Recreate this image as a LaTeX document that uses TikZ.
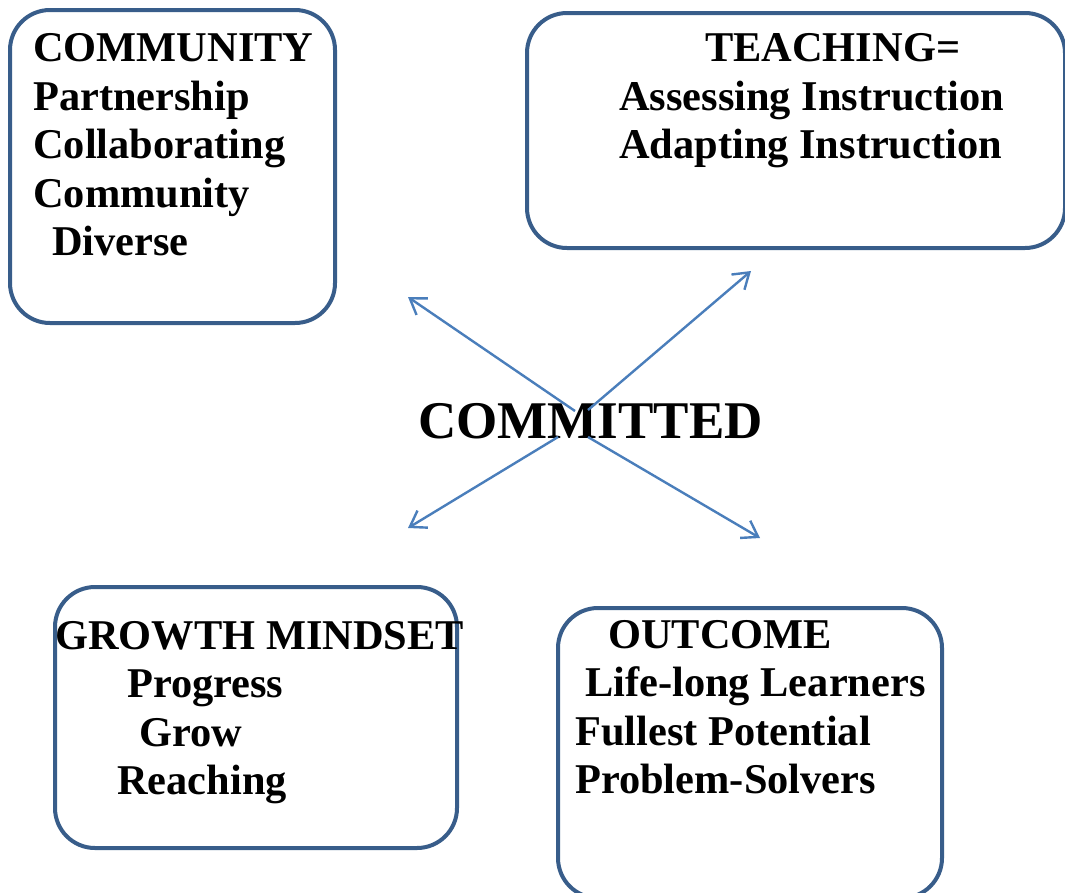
\documentclass[tikz,border=0pt]{standalone}
\usepackage{fontspec}
\setmainfont{Liberation Serif}
\usetikzlibrary{arrows.meta}
\definecolor{boxline}{HTML}{385D8A}
\definecolor{arrowline}{HTML}{4A7EBB}

\begin{document}
\begin{tikzpicture}[x=1pt,y=-1pt,
  box/.style={draw=boxline, line width=4pt, rounded corners=40pt},
  word/.style={anchor=base west, inner sep=0pt, font=\fontsize{42.4}{49}\selectfont\bfseries},
  link/.style={draw=arrowline, line width=2.4pt, -{Straight Barb[length=15pt,width=20pt]}}]
  \useasboundingbox (0,0) rectangle (1065,892);
  \clip (0,0) rectangle (1065,892);
  % boxes
  \node[box, minimum width=325pt, minimum height=313pt] (community) at (172.5,166.5) {};
  \node[box, minimum width=538pt, minimum height=235pt] (teaching) at (796,130.5) {};
  \node[box, minimum width=402pt, minimum height=261pt] (growth) at (256,717.5) {};
  \node[box, minimum width=384pt, minimum height=290pt] (outcome) at (750,753) {};
  % box texts
  \foreach \x/\y/\t [count=\i] in {33/61.5/COMMUNITY, 33/110/Partnership,
      33/158.6/Collaborating, 33/207.2/Community, 52/255.8/Diverse}
    \node[word] (comm\i) at (\x,\y) {\t};
  \foreach \x/\y/\t [count=\i] in {705/61.5/TEACHING=, 619/110/Assessing Instruction,
      619/158.6/Adapting Instruction}
    \node[word] (teach\i) at (\x,\y) {\t};
  \foreach \x/\y/\t [count=\i] in {55/649/GROWTH MINDSET, 127/697.6/Progress,
      139/746.2/Grow, 117/794.8/Reaching}
    \node[word] (grow\i) at (\x,\y) {\t};
  \foreach \x/\y/\t [count=\i] in {608/648/OUTCOME, 585/696.6/Life-long Learners,
      575/745.2/Fullest Potential, 575/793.8/Problem-Solvers}
    \node[word] (out\i) at (\x,\y) {\t};
  % centre
  \node[word, font=\fontsize{53}{60}\selectfont\bfseries] (committed) at (418,438) {COMMITTED};
  \coordinate (s1) at (575,411);
  \coordinate (s2) at (588,410);
  \coordinate (s3) at (558,437);
  \coordinate (s4) at (588,437);
  \coordinate (t1) at (408,297);
  \coordinate (t2) at (751,271);
  \coordinate (t3) at (408,528);
  \coordinate (t4) at (760,538);
  \draw[link] (s1) -- (t1);
  \draw[link] (s2) -- (t2);
  \draw[link] (s3) -- (t3);
  \draw[link] (s4) -- (t4);
\end{tikzpicture}
\end{document}
